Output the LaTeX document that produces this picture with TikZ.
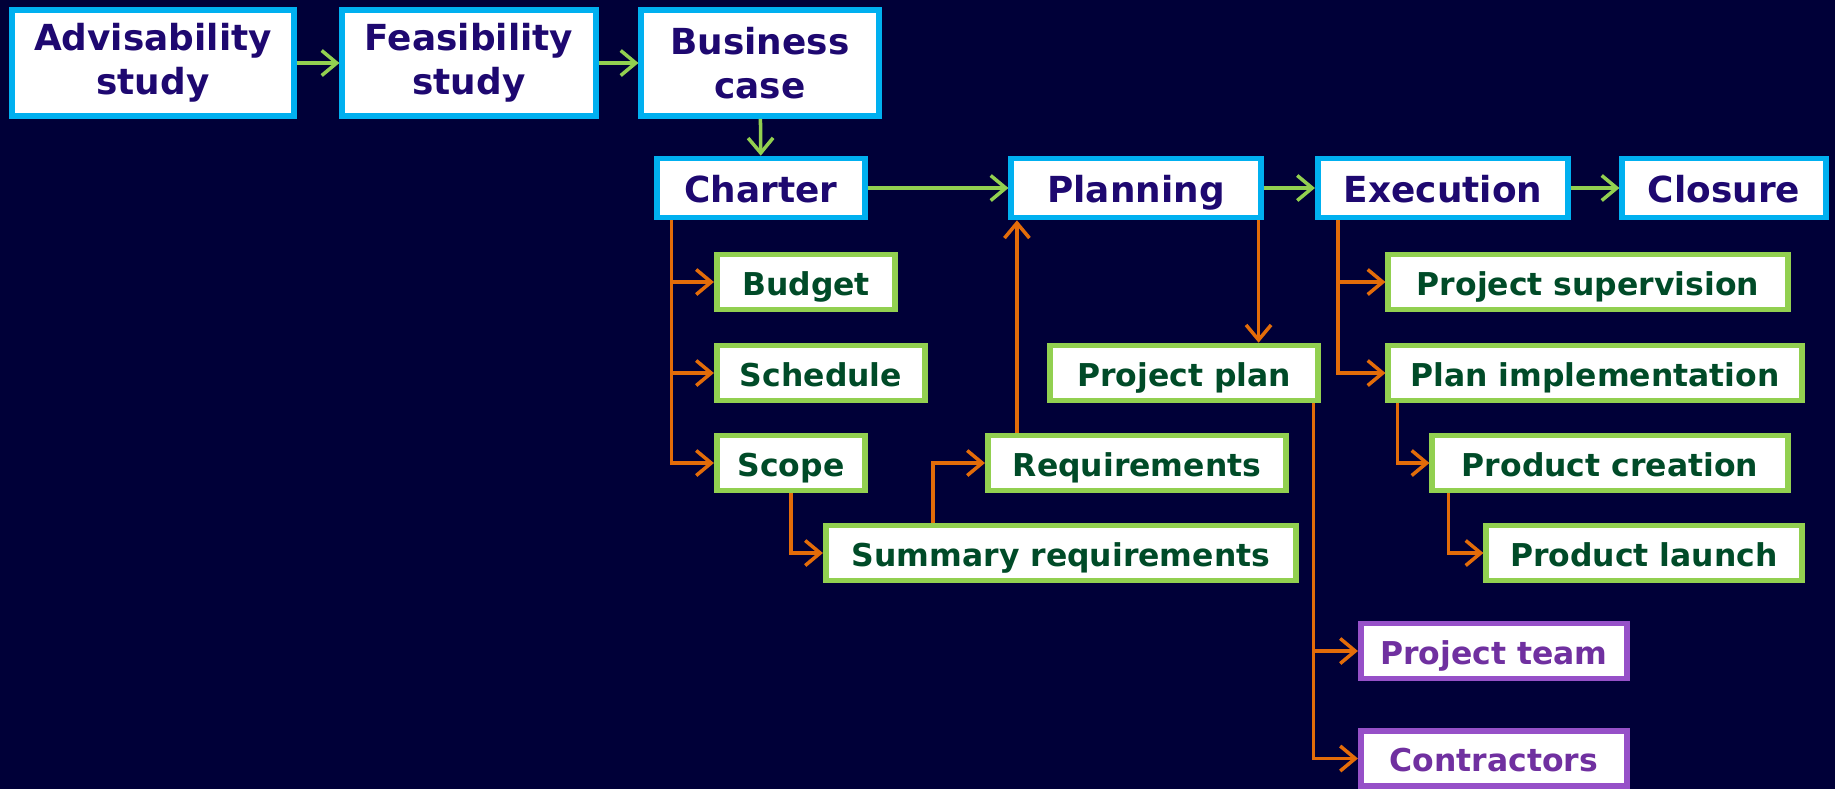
\documentclass[tikz,border=0pt]{standalone}
\usepackage{fontspec}
\setmainfont{DejaVu Sans}
\usetikzlibrary{arrows.meta}

\definecolor{navybg}{RGB}{0,0,56}
\definecolor{phaseblue}{RGB}{0,176,240}
\definecolor{phasetext}{RGB}{30,8,112}
\definecolor{itemgreen}{RGB}{146,208,80}
\definecolor{itemtext}{RGB}{0,75,40}
\definecolor{teampurple}{RGB}{150,80,200}
\definecolor{teamtext}{RGB}{112,48,160}
\definecolor{linkorange}{RGB}{227,108,9}

\tikzset{
  phase/.style={draw=phaseblue, line width=3.2pt, fill=white, text=phasetext,
    font=\fontsize{20.4}{25}\selectfont\bfseries, align=center, inner sep=0pt,
    minimum height=1.18cm},
  phaseline/.style={text height=16.6pt, text depth=0pt},
  item/.style={draw=itemgreen, line width=3.2pt, fill=white, text=itemtext,
    font=\fontsize{17.9}{20}\selectfont\bfseries, inner sep=0pt,
    minimum height=1.1cm, text height=14.8pt, text depth=0pt},
  party/.style={item, draw=teampurple, text=teamtext},
  flow/.style={draw=itemgreen, line width=2pt,
    -{Straight Barb[length=0.3cm,width=0.5cm]}},
  link/.style={draw=linkorange, line width=2pt,
    -{Straight Barb[length=0.3cm,width=0.5cm]}}
}

\begin{document}
\begin{tikzpicture}
        % Background
        \fill[navybg] (0,0) rectangle (36.7,-15.78);
        \useasboundingbox (0,0) rectangle (36.7,-15.78);

        % Phases
        \node[phase, minimum width=5.65cm, minimum height=2.12cm] (advisability) at (3.06,-1.26) {Advisability\\study};
        \node[phase, minimum width=5.07cm, minimum height=2.12cm] (feasibility) at (9.38,-1.26) {Feasibility\\study};
        \node[phase, minimum width=4.75cm, minimum height=2.12cm] (business) at (15.2,-1.26) {Business\\case};
        \node[phase, phaseline, minimum width=4.15cm] (charter) at (15.22,-3.76) {Charter};
        \node[phase, phaseline, minimum width=4.99cm] (planning) at (22.72,-3.76) {Planning};
        \node[phase, phaseline, minimum width=5.01cm] (execution) at (28.86,-3.76) {Execution};
        \node[phase, phaseline, minimum width=4.07cm] (closure) at (34.48,-3.76) {Closure};

        % Charter items
        \node[item, minimum width=3.57cm] (budget) at (16.12,-5.64) {Budget};
        \node[item, minimum width=4.17cm] (schedule) at (16.42,-7.46) {Schedule};
        \node[item, minimum width=2.97cm] (scope) at (15.82,-9.26) {Scope};
        \node[item, minimum width=9.41cm] (summary) at (21.22,-11.06) {Summary requirements};
        \node[item, minimum width=5.97cm] (requirements) at (22.74,-9.26) {Requirements};

        % Planning items
        \node[item, minimum width=5.35cm] (projplan) at (23.68,-7.46) {Project plan};
        \node[party, minimum width=5.33cm] (team) at (29.88,-13.02) {Project team};
        \node[party, minimum width=5.33cm] (contractors) at (29.88,-15.17) {Contractors};

        % Execution items
        \node[item, minimum width=7.99cm] (supervision) at (31.76,-5.64) {Project supervision};
        \node[item, minimum width=8.27cm] (implementation) at (31.9,-7.46) {Plan implementation};
        \node[item, minimum width=7.11cm] (creation) at (32.2,-9.26) {Product creation};
        \node[item, minimum width=6.31cm] (launch) at (32.88,-11.06) {Product launch};

        % Phase flow
        \draw[flow] (advisability) -- (feasibility);
        \draw[flow] (feasibility) -- (business);
        \draw[flow] (business) -- (charter);
        \draw[flow] (charter) -- (planning);
        \draw[flow] (planning) -- (execution);
        \draw[flow] (execution) -- (closure);

        % Branch points
        \coordinate (chroot) at ([xshift=0.34cm]charter.south west);
        \coordinate (smroot) at ([xshift=2.2cm]summary.north west);
        \coordinate (rqroot) at ([xshift=0.64cm]requirements.north west);
        \coordinate (plroot) at ([xshift=-0.1cm]planning.south east);
        \coordinate (pproot) at ([xshift=-0.14cm]projplan.south east);
        \coordinate (exroot) at ([xshift=0.46cm]execution.south west);
        \coordinate (imroot) at ([xshift=0.24cm]implementation.south west);
        \coordinate (crroot) at ([xshift=0.38cm]creation.south west);

        % Charter branches
        \draw[link] (chroot) |- (budget.west);
        \draw[link] (chroot) |- (schedule.west);
        \draw[link] (chroot) |- (scope.west);
        \draw[link] (scope.south) |- (summary.west);
        \draw[link] (smroot) |- (requirements.west);
        \draw[link] (rqroot) -- (rqroot |- planning.south);

        % Planning branches
        \draw[link] (plroot) -- (plroot |- projplan.north);
        \draw[link] (pproot) |- (team.west);
        \draw[link] (pproot) |- (contractors.west);

        % Execution branches
        \draw[link] (exroot) |- (supervision.west);
        \draw[link] (exroot) |- (implementation.west);
        \draw[link] (imroot) |- (creation.west);
        \draw[link] (crroot) |- (launch.west);
    \end{tikzpicture}
\end{document}
